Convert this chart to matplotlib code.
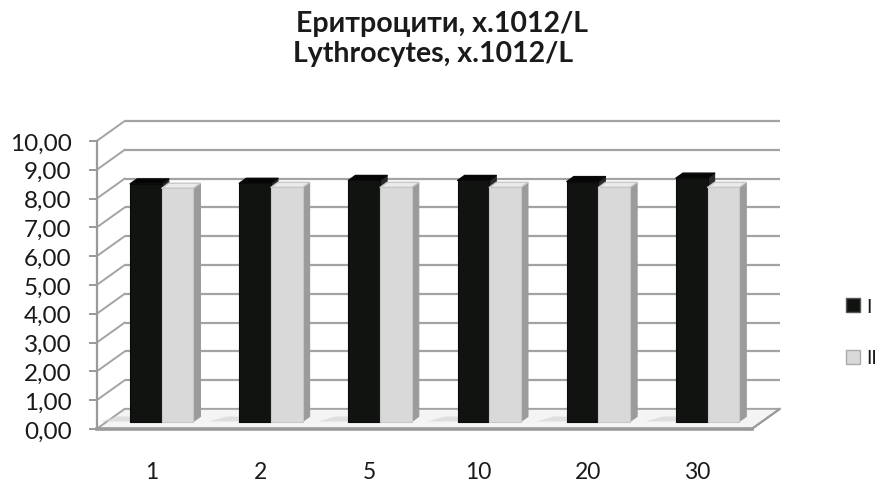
import matplotlib.pyplot as plt
from matplotlib.patches import Polygon, Patch

# erythrocyte counts per sampling day, two groups
days = ['1', '2', '5', '10', '20', '30']
group_i = [8.25, 8.27, 8.37, 8.37, 8.33, 8.45]
group_ii = [8.10, 8.13, 8.13, 8.13, 8.13, 8.13]
y_ticks = [0, 1, 2, 3, 4, 5, 6, 7, 8, 9, 10]
y_labels = ['%.2f' % t for t in y_ticks]
y_labels = [s.replace('.', ',') for s in y_labels]

plt.rcParams['font.family'] = ['Lato', 'DejaVu Sans']

W, H = 880, 485
fig = plt.figure(figsize=(W / 100, H / 100), dpi=100)
left, bottom, pw, ph = 96.7, 430, 655, 288
ax = fig.add_axes([left / W, 1 - bottom / H, pw / W, ph / H])
n = len(days)
ax.set_xlim(0, n)
ax.set_ylim(0, 10)

# depth of the pseudo-3d box in data units
DX = 28 / pw * n
DY = 20 / ph * 10
grid_col = '#a3a3a3'

# back wall and left wall gridlines
for t in y_ticks:
    ax.plot([DX, n + DX], [t + DY, t + DY], color=grid_col, lw=1.6,
            clip_on=False, zorder=1, solid_capstyle='butt')
    ax.plot([0, DX], [t, t + DY], color=grid_col, lw=1.4, clip_on=False, zorder=1)

# floor
floor = Polygon([(0, 0), (n, 0), (n + DX, DY), (DX, DY)], closed=True,
                facecolor='#f4f4f4', edgecolor=grid_col, lw=1.2, clip_on=False, zorder=2)
ax.add_patch(floor)
ax.plot([0, n], [0, 0], color='#9a9a9a', lw=2.6, clip_on=False, zorder=2.5)
ax.plot([n, n + DX], [0, DY], color='#9a9a9a', lw=1.6, clip_on=False, zorder=2.5)

bw = 0.29
f0, f1 = 0.375, 0.625


def bar3d(x0, x1, v, front, top, side, edge, z):
    ax.add_patch(Polygon([(x1 + f0 * DX, f0 * DY), (x1 + f1 * DX, f1 * DY),
                          (x1 + f1 * DX, v + f1 * DY), (x1 + f0 * DX, v + f0 * DY)],
                         facecolor=side, edgecolor=side, lw=0.8, clip_on=False, zorder=z))
    ax.add_patch(Polygon([(x0 + f0 * DX, v + f0 * DY), (x1 + f0 * DX, v + f0 * DY),
                          (x1 + f1 * DX, v + f1 * DY), (x0 + f1 * DX, v + f1 * DY)],
                         facecolor=top, edgecolor=edge, lw=1.0, joinstyle='round',
                         clip_on=False, zorder=z))
    ax.add_patch(Polygon([(x0 + f0 * DX, f0 * DY), (x1 + f0 * DX, f0 * DY),
                          (x1 + f0 * DX, v + f0 * DY), (x0 + f0 * DX, v + f0 * DY)],
                         facecolor=front, edgecolor=edge, lw=0.8, joinstyle='round',
                         clip_on=False, zorder=z))


for i in range(n):
    c = i + 0.5
    # soft shadow on the floor left of each pair
    ax.add_patch(Polygon([(c - bw - 0.28 + f0 * DX, f0 * DY), (c - bw + f0 * DX, f0 * DY),
                          (c - bw + f1 * DX, f1 * DY), (c - bw - 0.18 + f1 * DX, f1 * DY)],
                         facecolor='#d6d6d6', edgecolor='none', alpha=0.7,
                         clip_on=False, zorder=2.6))
    bar3d(c - bw, c, group_i[i], '#111311', '#050505', '#2a2a2a', '#0a0a0a', 3 + i * 0.1)
    bar3d(c, c + bw, group_ii[i], '#d9d9d9', '#ebebeb', '#9b9b9b', '#c8c8c8', 3.05 + i * 0.1)

# axes, ticks and labels
for s in ['top', 'right', 'bottom']:
    ax.spines[s].set_visible(False)
ax.spines['left'].set_color('#9a9a9a')
ax.spines['left'].set_linewidth(1.6)
ax.set_yticks(y_ticks)
ax.set_yticklabels(y_labels)
ax.tick_params(axis='y', direction='out', length=6, width=1.4, color='#9a9a9a',
               pad=12, labelsize=17.5, labelcolor='#1a1a1a')
ax.set_xticks([i + 0.5 for i in range(n)])
ax.set_xticklabels(days)
ax.tick_params(axis='x', length=0, pad=23, labelsize=16.5, labelcolor='#1a1a1a')
ax.set_facecolor('none')

fig.text(442 / W, 1 - 32 / H, 'Еритроцити, x.1012/L', ha='center', va='baseline',
         fontsize=20.5, fontweight='bold', color='#1a1a1a')
fig.text(433 / W, 1 - 62 / H, 'Lythrocytes, x.1012/L', ha='center', va='baseline',
         fontsize=20.5, fontweight='bold', color='#1a1a1a')

handles = [Patch(facecolor='#111311', edgecolor='#555555'),
           Patch(facecolor='#d9d9d9', edgecolor='#aaaaaa')]
fig.legend(handles, ['I', 'II'], loc='center left', bbox_to_anchor=(838 / W, 1 - 333 / H),
           frameon=False, fontsize=13.5, handlelength=0.78, handleheight=0.78,
           handletextpad=0.3, labelspacing=1.85, labelcolor='#1a1a1a', borderaxespad=0)

fig.savefig('out.png', dpi=100)
